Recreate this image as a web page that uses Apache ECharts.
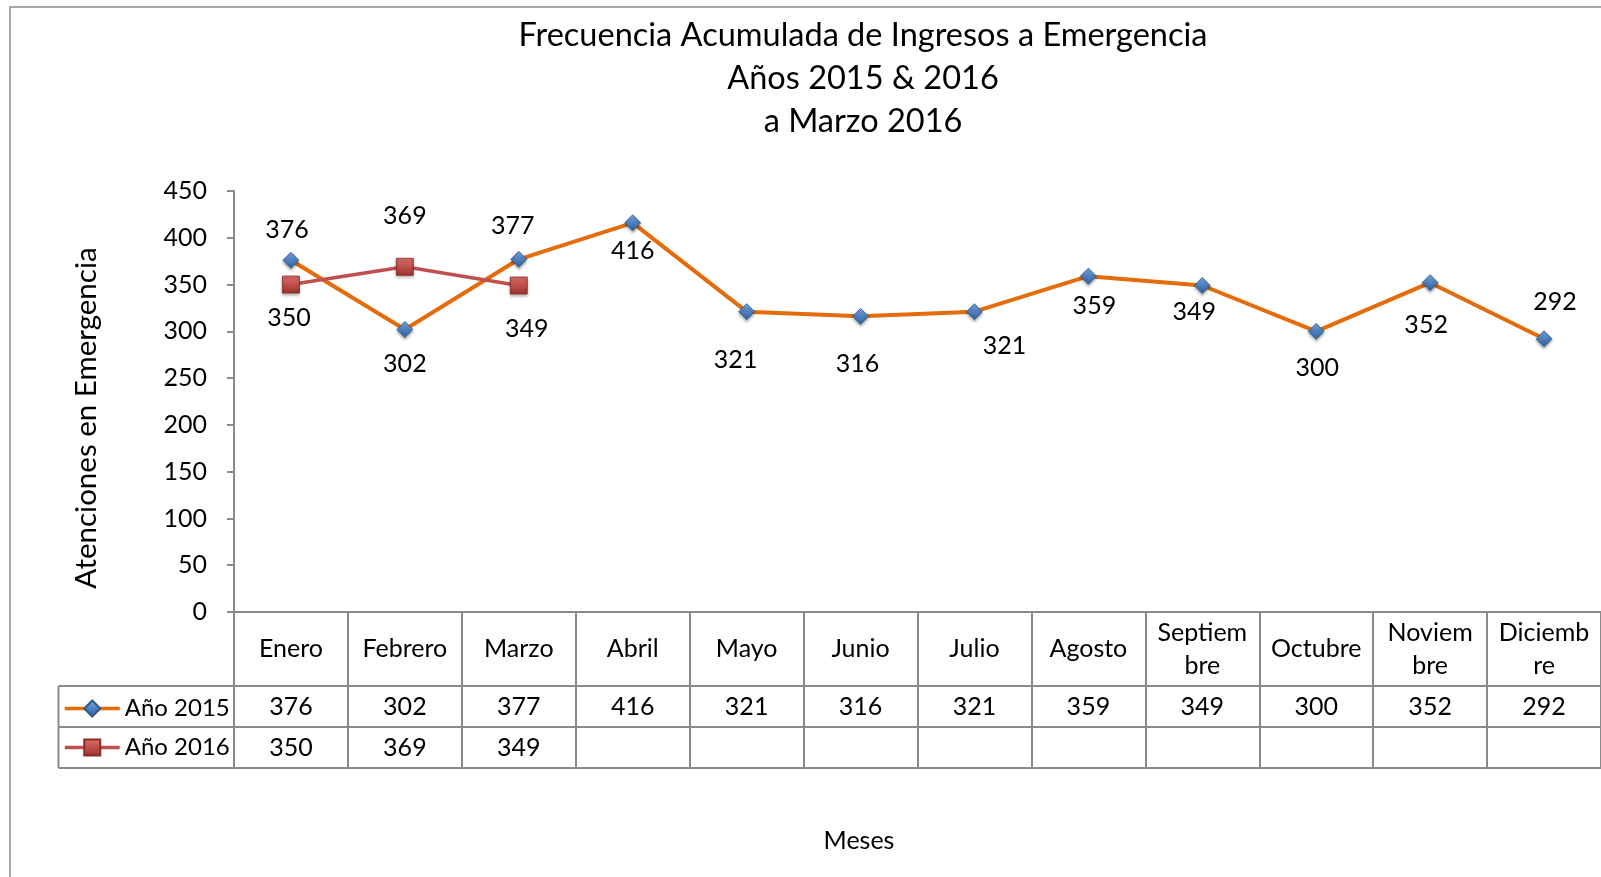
<!DOCTYPE html>
<html>
<head>
    <meta charset="utf-8">
    <script src="https://cdn.jsdelivr.net/npm/echarts@6/dist/echarts.min.js"></script>
</head>
<body style="margin: 0">
<div id="container" style="width: 1601px; height: 877px"></div>
<script type="text/javascript">
    // datos
    var months = ['Enero', 'Febrero', 'Marzo', 'Abril', 'Mayo', 'Junio', 'Julio', 'Agosto', 'Septiembre', 'Octubre', 'Noviembre', 'Diciembre'];
    var monthLabels = ['Enero', 'Febrero', 'Marzo', 'Abril', 'Mayo', 'Junio', 'Julio', 'Agosto', 'Septiem\nbre', 'Octubre', 'Noviem\nbre', 'Diciemb\nre'];
    var year2015 = [376, 302, 377, 416, 321, 316, 321, 359, 349, 300, 352, 292];
    var year2016 = [350, 369, 349];
    var yMin = 0, yMax = 450, yStep = 50;

    // posiciones de etiquetas (ajustadas a mano como en Excel)
    var off2015 = [[-4, -30], [0, 34], [-6, -33], [0, 28], [-11, 48], [-3, 48], [30, 34], [6, 30], [-8, 26], [1, 37], [-4, 42], [11, -37]];
    var off2016 = [[-2, 33], [0, -51], [8, 43]];

    var FONT = 'Lato';
    var GRAY = '#8a8a8a';
    var gridLeft = 234, gridTop = 191, gridWidth = 1368, gridHeight = 421;
    var headerH = 74, rowH = 41, tableLeft = 58.5;
    var axisY = gridTop + gridHeight;

    var dom = document.getElementById('container');
    var myChart = echarts.init(dom);

    function withLabels(values, offsets) {
        var out = [];
        for (var i = 0; i < values.length; i++) {
            out.push({value: values[i], label: {offset: offsets[i]}});
        }
        return out;
    }

    function tableAxis(offset, values, showTick) {
        return {
            type: 'category',
            data: months,
            position: 'bottom',
            offset: offset,
            axisLine: {show: true, lineStyle: {color: GRAY, width: 2}},
            axisTick: {show: showTick, interval: 0, length: rowH, lineStyle: {color: GRAY, width: 2}},
            axisLabel: {
                show: !!values,
                interval: 0,
                margin: rowH / 2,
                verticalAlign: 'middle',
                fontFamily: FONT, fontSize: 25, color: '#000',
                formatter: function (v, idx) {
                    return values && values[idx] != null ? String(values[idx]) : '';
                }
            },
            splitLine: {show: false}
        };
    }

    var blueDiamond = new echarts.graphic.LinearGradient(0, 0, 0, 1, [
        {offset: 0, color: '#7eaae2'}, {offset: 0.5, color: '#4f81bd'}, {offset: 1, color: '#2f5f97'}
    ]);
    var redSquare = new echarts.graphic.LinearGradient(0, 0, 0, 1, [
        {offset: 0, color: '#dd6f6b'}, {offset: 0.5, color: '#c0504d'}, {offset: 1, color: '#9a302d'}
    ]);

    myChart.setOption({
        animation: false,
        title: {
            text: 'Frecuencia Acumulada de Ingresos a Emergencia\nAños 2015 & 2016\na Marzo 2016',
            left: 863, top: 14, padding: 0,
            textAlign: 'center',
            textStyle: {fontFamily: FONT, fontSize: 32.5, fontWeight: 'normal', color: '#000', lineHeight: 43}
        },
        legend: {
            orient: 'vertical',
            left: 63, top: axisY + headerH + 10.5, padding: 0,
            itemWidth: 55, itemHeight: 20, itemGap: 15,
            lineStyle: {width: 3.5},
            textStyle: {fontFamily: FONT, fontSize: 24, color: '#000', lineHeight: 20},
            data: ['Año 2015', 'Año 2016']
        },
        grid: {left: gridLeft, top: gridTop, width: gridWidth, height: gridHeight, containLabel: false},
        xAxis: [
            {
                type: 'category',
                data: months,
                position: 'bottom',
                axisLine: {show: true, lineStyle: {color: GRAY, width: 2}},
                axisTick: {show: true, interval: 0, length: headerH, lineStyle: {color: GRAY, width: 2}},
                axisLabel: {
                    interval: 0, margin: headerH / 2, verticalAlign: 'middle',
                    fontFamily: FONT, fontSize: 25, color: '#000', lineHeight: 33,
                    formatter: function (v, idx) { return monthLabels[idx]; }
                }
            },
            tableAxis(headerH, year2015, true),
            tableAxis(headerH + rowH, year2016, true),
            tableAxis(headerH + 2 * rowH, null, false)
        ],
        yAxis: {
            type: 'value',
            min: yMin, max: yMax, interval: yStep,
            axisLine: {show: true, lineStyle: {color: GRAY, width: 2}},
            axisTick: {show: true, length: 7, lineStyle: {color: GRAY, width: 2}},
            axisLabel: {margin: 27, fontFamily: FONT, fontSize: 25, color: '#000'},
            splitLine: {show: false}
        },
        series: [
            {
                name: 'Año 2015',
                type: 'line',
                data: withLabels(year2015, off2015),
                symbol: 'diamond', symbolSize: 16,
                lineStyle: {color: '#e46c0a', width: 4},
                itemStyle: {color: blueDiamond, borderColor: '#2c5a8e', borderWidth: 0.8,
                    shadowColor: 'rgba(0,0,0,0.35)', shadowBlur: 3, shadowOffsetY: 2},
                label: {show: true, position: 'inside', fontFamily: FONT, fontSize: 25, color: '#000'},
                z: 3
            },
            {
                name: 'Año 2016',
                type: 'line',
                data: withLabels(year2016, off2016),
                symbol: 'rect', symbolSize: 17,
                lineStyle: {color: '#c0504d', width: 3.5},
                itemStyle: {color: redSquare, borderColor: '#8c2b28', borderWidth: 0.8,
                    shadowColor: 'rgba(0,0,0,0.35)', shadowBlur: 3, shadowOffsetY: 2},
                label: {show: true, position: 'inside', fontFamily: FONT, fontSize: 25, color: '#000'},
                z: 4
            }
        ],
        graphic: [
            {type: 'rect', shape: {x: 10, y: 7, width: 2000, height: 2000}, style: {fill: 'none', stroke: GRAY, lineWidth: 1.5}, silent: true},
            {type: 'line', shape: {x1: tableLeft, y1: axisY + headerH, x2: gridLeft, y2: axisY + headerH}, style: {stroke: GRAY, lineWidth: 2}},
            {type: 'line', shape: {x1: tableLeft, y1: axisY + headerH + rowH, x2: gridLeft, y2: axisY + headerH + rowH}, style: {stroke: GRAY, lineWidth: 2}},
            {type: 'line', shape: {x1: tableLeft, y1: axisY + headerH + 2 * rowH, x2: gridLeft, y2: axisY + headerH + 2 * rowH}, style: {stroke: GRAY, lineWidth: 2}},
            {type: 'line', shape: {x1: tableLeft, y1: axisY + headerH, x2: tableLeft, y2: axisY + headerH + 2 * rowH}, style: {stroke: GRAY, lineWidth: 2}},
            {type: 'text', x: 86, y: 418, rotation: Math.PI / 2,
                style: {text: 'Atenciones en Emergencia', fontFamily: FONT, fontSize: 29.5, fill: '#000', align: 'center', verticalAlign: 'middle'}},
            {type: 'text', x: 859, y: 841,
                style: {text: 'Meses', fontFamily: FONT, fontSize: 25, fill: '#000', align: 'center', verticalAlign: 'middle'}}
        ]
    });
</script>
</body>
</html>
